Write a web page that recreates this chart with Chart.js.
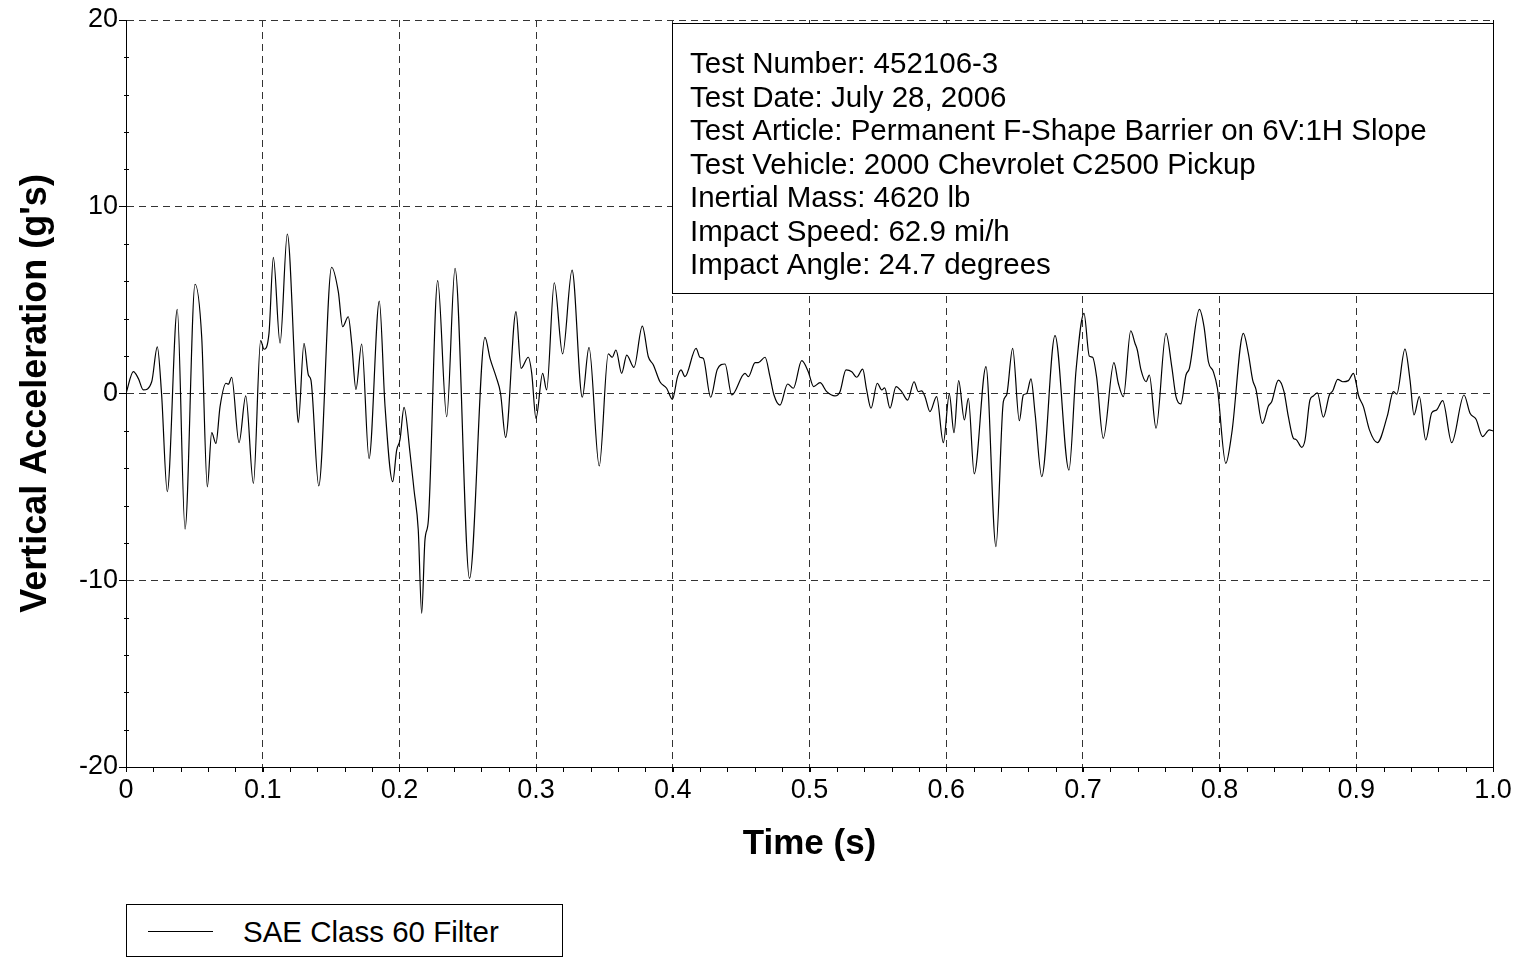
<!DOCTYPE html>
<html>
<head>
<meta charset="utf-8">
<script src="https://cdn.jsdelivr.net/npm/chart.js@4/dist/chart.umd.min.js"></script>
<style>
  html, body { margin: 0; padding: 0; background: #fff; }
  #wrap { position: relative; width: 1522px; height: 957px; }
  #legend {
    position: absolute; left: 126px; top: 904px; width: 437px; height: 53px;
    box-sizing: border-box; border: 1px solid #000; background: #fff;
    font-family: "Liberation Sans", Arial, sans-serif; font-size: 29.5px; color: #000;
  }
  #legend .item { display: flex; align-items: center; height: 100%; padding-left: 21px; padding-top: 2px; box-sizing: border-box; }
  #legend .swatch { display: inline-block; width: 65px; height: 0; border-top: 1px solid #000; margin-right: 30px; }
</style>
</head>
<body>
<div id="wrap">
  <canvas id="chart" width="1522" height="957"></canvas>
  <div id="legend"></div>
</div>
<script>
// acceleration trace (time in s, accel in g's)
const timeS = [
  0, 0.0054, 0.009, 0.0127, 0.0188, 0.0229, 0.026, 0.0302, 0.0375, 0.0432,
  0.0505, 0.0554, 0.0595, 0.0627, 0.0658, 0.0688, 0.0732, 0.0749, 0.0773, 0.0827,
  0.0876, 0.0932, 0.0985, 0.101, 0.1046, 0.1078, 0.1127, 0.118, 0.1244, 0.126,
  0.1302, 0.1334, 0.1353, 0.141, 0.1504, 0.1553, 0.1585, 0.1626, 0.1651, 0.1682,
  0.1724, 0.1778, 0.1853, 0.1895, 0.1951, 0.198, 0.2004, 0.2034, 0.2078, 0.2107,
  0.2138, 0.2163, 0.2187, 0.2212, 0.228, 0.2346, 0.2407, 0.2513, 0.2626, 0.2663,
  0.2707, 0.274, 0.2777, 0.2853, 0.289, 0.2943, 0.2968, 0.2999, 0.3048, 0.3077,
  0.3133, 0.3194, 0.3263, 0.3338, 0.3387, 0.3462, 0.3528, 0.3557, 0.3584, 0.3626,
  0.3663, 0.3716, 0.3777, 0.3821, 0.3858, 0.3906, 0.3955, 0.3997, 0.4035, 0.406,
  0.4089, 0.417, 0.4199, 0.4223, 0.4277, 0.4326, 0.4382, 0.4431, 0.4528, 0.4553,
  0.4602, 0.4626, 0.4675, 0.4711, 0.474, 0.4784, 0.484, 0.4882, 0.4943, 0.4991,
  0.503, 0.5077, 0.5126, 0.5186, 0.5223, 0.5267, 0.5309, 0.5345, 0.5389, 0.5418,
  0.545, 0.5496, 0.5528, 0.555, 0.5589, 0.5633, 0.5674, 0.5718, 0.5765, 0.5796,
  0.582, 0.5845, 0.5881, 0.593, 0.5979, 0.6023, 0.6057, 0.6091, 0.6133, 0.6162,
  0.6205, 0.6291, 0.6364, 0.6418, 0.6442, 0.6486, 0.6535, 0.6564, 0.6589, 0.662,
  0.665, 0.6699, 0.6796, 0.6898, 0.695, 0.7008, 0.7047, 0.7071, 0.71, 0.7149,
  0.7227, 0.7259, 0.7296, 0.735, 0.7381, 0.7398, 0.7425, 0.7462, 0.7486, 0.7535,
  0.7608, 0.765, 0.7681, 0.7716, 0.7754, 0.7779, 0.7852, 0.7886, 0.7918, 0.7954,
  0.7984, 0.8045, 0.8089, 0.8174, 0.821, 0.8242, 0.8266, 0.8313, 0.8357, 0.8381,
  0.843, 0.8471, 0.8503, 0.854, 0.8559, 0.8601, 0.8625, 0.8661, 0.8686, 0.8715,
  0.8759, 0.8803, 0.8828, 0.8864, 0.8901, 0.8942, 0.8979, 0.8999, 0.9015, 0.9052,
  0.9096, 0.9154, 0.9227, 0.9271, 0.9296, 0.9356, 0.9393, 0.9422, 0.9461, 0.9508,
  0.9552, 0.9588, 0.9632, 0.9698, 0.9788, 0.9832, 0.9876, 0.9924, 0.9973, 1.0
];
const accelG = [
  0, 1.17, 0.81, 0.19, 0.63, 2.5, 0, -5.26, 4.5, -7.26,
  5.85, 3.0, -5.0, -2.1, -2.67, -0.7, 0.55, 0.5, 0.87, -2.63,
  -0.13, -4.81, 2.83, 2.37, 3.22, 7.29, 2.69, 8.54, 0, -1.56,
  2.69, 0.99, 0.72, -4.95, 6.76, 5.45, 3.58, 4.11, 2.69, 0.22,
  2.65, -3.49, 4.95, -0.7, -4.72, -3.03, -2.49, -0.74, -3.2, -5.17,
  -7.31, -11.77, -7.84, -6.77, 6.04, -1.24, 6.7, -9.9, 3.0, 1.88,
  0.9, 0, -2.35, 4.38, 1.35, 1.94, 1.08, -1.33, 1.08, 0.19,
  5.93, 2.12, 6.61, -0.2, 2.47, -3.88, 2.12, 1.94, 2.33, 1.08,
  2.06, 1.4, 3.61, 1.97, 1.53, 0.63, 0.28, -0.31, 0.9, 1.26,
  0.9, 2.42, 1.94, 1.88, -0.2, 1.3, 1.58, -0.08, 1.08, 0.9,
  1.65, 1.65, 1.94, 0.9, -0.08, -0.62, 0.51, 0.28, 1.76, 1.17,
  0.37, 0.58, 0.1, -0.13, 0.1, 1.26, 1.17, 0.87, 1.3, 0.19,
  -0.79, 0.55, 0.19, 0.3, -0.79, 0.37, 0.1, -0.35, 0.63, 0.1,
  0.14, -0.17, -0.97, -0.17, -2.63, -0.03, -2.1, 0.69, -1.42, -0.26,
  -4.3, 1.44, -8.2, -0.44, -0.08, 2.42, -1.46, -0.08, 0, 0.78,
  -1.06, -4.45, 3.1, -4.1, 1.26, 4.29, 2.0, 1.94, 0.9, -2.4,
  1.65, 0.55, -0.17, 3.36, 2.69, 2.33, 1.26, 0.63, 0.99, -1.86,
  3.22, 1.44, -0.17, -0.56, 0.99, 1.35, 4.5, 3.58, 1.7, 1.17,
  0.28, -3.74, -2.13, 3.22, 2.15, 0.72, 0.22, -1.6, -0.67, -0.44,
  0.72, 0.1, -1.24, -2.4, -2.46, -2.88, -2.49, -0.35, -0.13, 0.04,
  -1.27, -0.08, 0.15, 0.76, 0.63, 0.69, 1.08, 0.55, -0.08, -0.7,
  -1.95, -2.63, -1.2, 0.1, -0.03, 2.38, 0.72, -1.15, -0.17, -2.49,
  -1.03, -0.88, -0.38, -2.63, -0.08, -1.06, -1.38, -2.31, -1.95, -2.0
];

const xTicks = [0, 0.1, 0.2, 0.3, 0.4, 0.5, 0.6, 0.7, 0.8, 0.9, 1.0];
const xTickLabels = ["0", "0.1", "0.2", "0.3", "0.4", "0.5", "0.6", "0.7", "0.8", "0.9", "1.0"];
const yTicks = [-20, -10, 0, 10, 20];
const yTickLabels = ["-20", "-10", "0", "10", "20"];

const seriesName = "SAE Class 60 Filter";
const infoLines = [
  "Test Number: 452106-3",
  "Test Date: July 28, 2006",
  "Test Article: Permanent F-Shape Barrier on 6V:1H Slope",
  "Test Vehicle: 2000 Chevrolet C2500 Pickup",
  "Inertial Mass: 4620 lb",
  "Impact Speed: 62.9 mi/h",
  "Impact Angle: 24.7 degrees"
];

const FONT = '"Liberation Sans", Arial, sans-serif';

// small ticks between the labelled ones + solid right frame edge
const minorTicks = {
  id: "minorTicks",
  afterDraw(chart) {
    const { ctx, chartArea } = chart;
    const xs = chart.scales.x, ys = chart.scales.y;
    ctx.save();
    ctx.strokeStyle = "#000";
    ctx.lineWidth = 1;
    ctx.beginPath();
    for (let i = 0; i <= 50; i++) {
      const px = Math.round(xs.getPixelForValue(i * 0.02)) + 0.5;
      ctx.moveTo(px, chartArea.bottom);
      ctx.lineTo(px, chartArea.bottom + 5);
    }
    for (let v = -20; v <= 20; v += 2) {
      if (v % 10 === 0) continue;
      const py = Math.round(ys.getPixelForValue(v)) + 0.5;
      ctx.moveTo(chartArea.left - 2, py);
      ctx.lineTo(chartArea.left + 3, py);
    }
    ctx.moveTo(Math.round(chartArea.right) + 0.5, chartArea.top);
    ctx.lineTo(Math.round(chartArea.right) + 0.5, chartArea.bottom);
    ctx.stroke();
    ctx.restore();
  }
};

// test info box in the upper right of the plot
const infoBox = {
  id: "infoBox",
  afterDraw(chart) {
    const { ctx, chartArea } = chart;
    const w = 821, h = 270;
    const x = Math.round(chartArea.right) - w, y = Math.round(chartArea.top) + 3;
    ctx.save();
    ctx.fillStyle = "#fff";
    ctx.fillRect(x, y, w, h);
    ctx.strokeStyle = "#000";
    ctx.lineWidth = 1;
    ctx.strokeRect(x + 0.5, y + 0.5, w, h);
    ctx.fillStyle = "#000";
    ctx.font = "29.5px " + FONT;
    ctx.textBaseline = "middle";
    infoLines.forEach((t, i) => ctx.fillText(t, x + 18, y + 42 + i * 33.5));
    ctx.restore();
  }
};

const htmlLegend = {
  id: "htmlLegend",
  afterUpdate(chart) {
    const box = document.getElementById("legend");
    box.innerHTML = "";
    const items = chart.options.plugins.legend.labels.generateLabels(chart);
    items.forEach(item => {
      const row = document.createElement("div");
      row.className = "item";
      const swatch = document.createElement("span");
      swatch.className = "swatch";
      swatch.style.borderTopColor = item.strokeStyle;
      const label = document.createElement("span");
      label.textContent = item.text;
      row.append(swatch, label);
      box.appendChild(row);
    });
  }
};

new Chart(document.getElementById("chart"), {
  type: "line",
  data: {
    datasets: [{
      label: seriesName,
      data: timeS.map((t, i) => ({ x: t, y: accelG[i] })),
      borderColor: "#000",
      borderWidth: 1.2,
      pointRadius: 0,
      fill: false,
      cubicInterpolationMode: "monotone"
    }]
  },
  options: {
    responsive: false,
    animation: false,
    layout: { padding: { top: 20, right: 29, bottom: 90, left: 0 } },
    plugins: {
      legend: { display: false },
      tooltip: { enabled: false }
    },
    scales: {
      x: {
        type: "linear",
        min: 0,
        max: 1,
        afterBuildTicks: scale => { scale.ticks = xTicks.map(v => ({ value: v })); },
        afterFit: scale => { scale.height = 100; },
        ticks: {
          color: "#000",
          padding: 2,
          maxRotation: 0,
          font: { family: FONT, size: 27 },
          callback: (v, i) => xTickLabels[i]
        },
        grid: { color: "#333", lineWidth: 1, tickLength: 5, tickColor: "#000" },
        border: { display: true, color: "#000", width: 1, dash: [7, 5] },
        title: {
          display: true,
          text: "Time (s)",
          color: "#000",
          padding: { top: 0, bottom: 2 },
          font: { family: FONT, size: 35, weight: "bold" }
        }
      },
      y: {
        type: "linear",
        min: -20,
        max: 20,
        afterBuildTicks: scale => { scale.ticks = yTicks.map(v => ({ value: v })); },
        afterFit: scale => { scale.width = 126; },
        ticks: {
          color: "#000",
          padding: 1,
          font: { family: FONT, size: 27 },
          callback: (v, i) => yTickLabels[i]
        },
        grid: { color: "#333", lineWidth: 1, tickLength: 7, tickColor: "#000" },
        border: { display: true, color: "#000", width: 1, dash: [7, 5] },
        title: {
          display: true,
          text: "Vertical Acceleration (g's)",
          color: "#000",
          padding: { top: 14, bottom: 0 },
          font: { family: FONT, size: 36, weight: "bold" }
        }
      }
    }
  },
  plugins: [minorTicks, infoBox, htmlLegend]
});
</script>
</body>
</html>
